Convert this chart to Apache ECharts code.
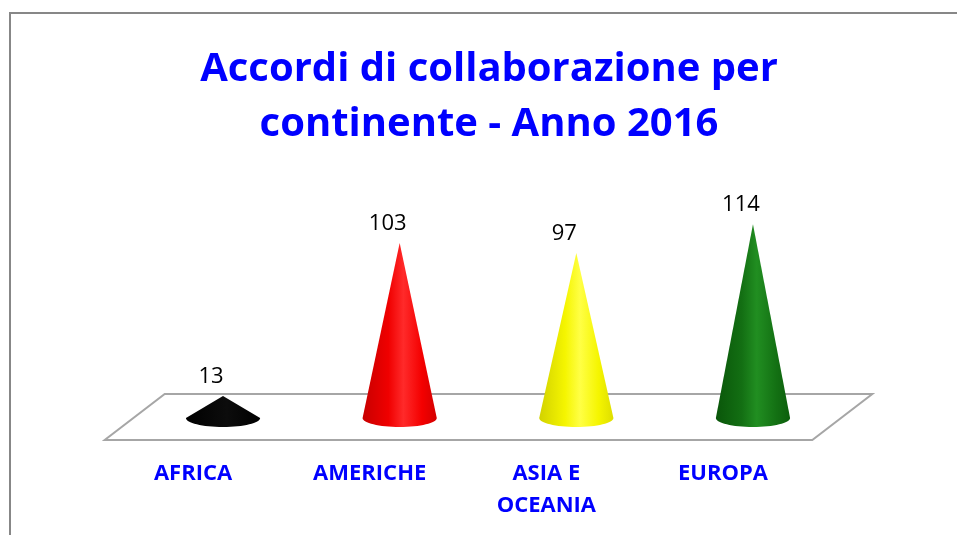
<!DOCTYPE html>
<html><head><meta charset="utf-8">
<script src="https://cdn.jsdelivr.net/npm/echarts@6/dist/echarts.min.js"></script>
<style>html,body{margin:0;padding:0;background:#fff}#c{width:957px;height:535px}</style>
</head><body><div id="c"></div>
<script>
// ---- data ----
const titleLines = ['Accordi di collaborazione per', 'continente - Anno 2016'];
const categories = ['AFRICA', 'AMERICHE', 'ASIA E\nOCEANIA', 'EUROPA'];
const values = [13, 103, 97, 114];
const yMin = 0;
const yMax = 150;

// ---- styles ----
const coneGradients = [
  [[0, '#000000'], [0.55, '#0c0c0c'], [1, '#000000']],
  [[0, '#c80000'], [0.35, '#f00000'], [0.55, '#ff2a2a'], [0.8, '#f40000'], [1, '#d40000']],
  [[0, '#d2d200'], [0.35, '#f5f500'], [0.55, '#ffff45'], [0.8, '#f5f500'], [1, '#dede00']],
  [[0, '#0a560a'], [0.35, '#136f13'], [0.55, '#218e21'], [0.8, '#147214'], [1, '#0c5e0c']]
];
const FONT = '"Open Sans", "Noto Sans", sans-serif';
const BLUE = '#0000ff';

const chart = echarts.init(document.getElementById('c'), null, {renderer: 'canvas'});

function grad(stops) {
  return new echarts.graphic.LinearGradient(0, 0, 1, 0,
    stops.map(s => ({offset: s[0], color: s[1]})));
}

function renderFloor(params, api) {
  const cs = params.coordSys;
  const y0 = api.coord([0, 0])[1];
  const left = cs.x, right = cs.x + cs.width;
  const yb = y0 - 24, yf = y0 + 22;
  return {
    type: 'polygon',
    shape: {points: [[left + 30, yb], [right + 31, yb], [right - 29, yf], [left - 30, yf]]},
    style: {fill: '#ffffff', stroke: '#a6a6a6', lineWidth: 2},
    silent: true
  };
}

function renderCone(params, api) {
  const i = api.value(0), v = api.value(1);
  const base = api.coord([i, 0]);
  const tip = api.coord([i, v]);
  const band = api.size([1, 0])[0];
  const rx = band * 0.21, ry = 9, k = 0.5523;
  const cx = base[0], cy = base[1];
  const d = 'M' + tip[0] + ' ' + tip[1] +
    ' L' + (cx + rx) + ' ' + cy +
    ' C' + (cx + rx) + ' ' + (cy + k * ry) + ' ' + (cx + k * rx) + ' ' + (cy + ry) + ' ' + cx + ' ' + (cy + ry) +
    ' C' + (cx - k * rx) + ' ' + (cy + ry) + ' ' + (cx - rx) + ' ' + (cy + k * ry) + ' ' + (cx - rx) + ' ' + cy + ' Z';
  return {
    type: 'group',
    children: [
      {type: 'path', shape: {pathData: d}, style: {fill: grad(coneGradients[i])}},
      {type: 'text', x: tip[0] - 12, y: tip[1] - 19,
        style: {text: String(v), fill: '#000', font: '22px ' + FONT, align: 'center', verticalAlign: 'middle'}},
      {type: 'text', x: cx - 30, y: cy + 40,
        style: {text: categories[i], fill: BLUE, font: 'bold 22px ' + FONT, align: 'center', verticalAlign: 'top', lineHeight: 32}}
    ]
  };
}

chart.setOption({
  animation: false,
  backgroundColor: '#ffffff',
  graphic: [
    {type: 'rect', shape: {x: 10, y: 13, width: 1000, height: 600}, style: {fill: 'none', stroke: '#878787', lineWidth: 2}, z: -10, silent: true},
    {type: 'text', x: 489, y: 70, style: {text: titleLines[0], fill: BLUE, font: 'bold 40px ' + FONT, align: 'center', verticalAlign: 'middle'}},
    {type: 'text', x: 489, y: 125, style: {text: titleLines[1], fill: BLUE, font: 'bold 40px ' + FONT, align: 'center', verticalAlign: 'middle'}}
  ],
  grid: {left: 134.7, right: 115.7, top: 163, bottom: 117},
  xAxis: {type: 'category', data: categories, show: false, boundaryGap: true},
  yAxis: {type: 'value', min: yMin, max: yMax, show: false},
  series: [
    {type: 'custom', renderItem: renderFloor, data: [[0, 0]], z: 1, silent: true},
    {type: 'custom', renderItem: renderCone, data: values.map((v, i) => [i, v]), z: 2}
  ]
});
</script>
</body></html>
